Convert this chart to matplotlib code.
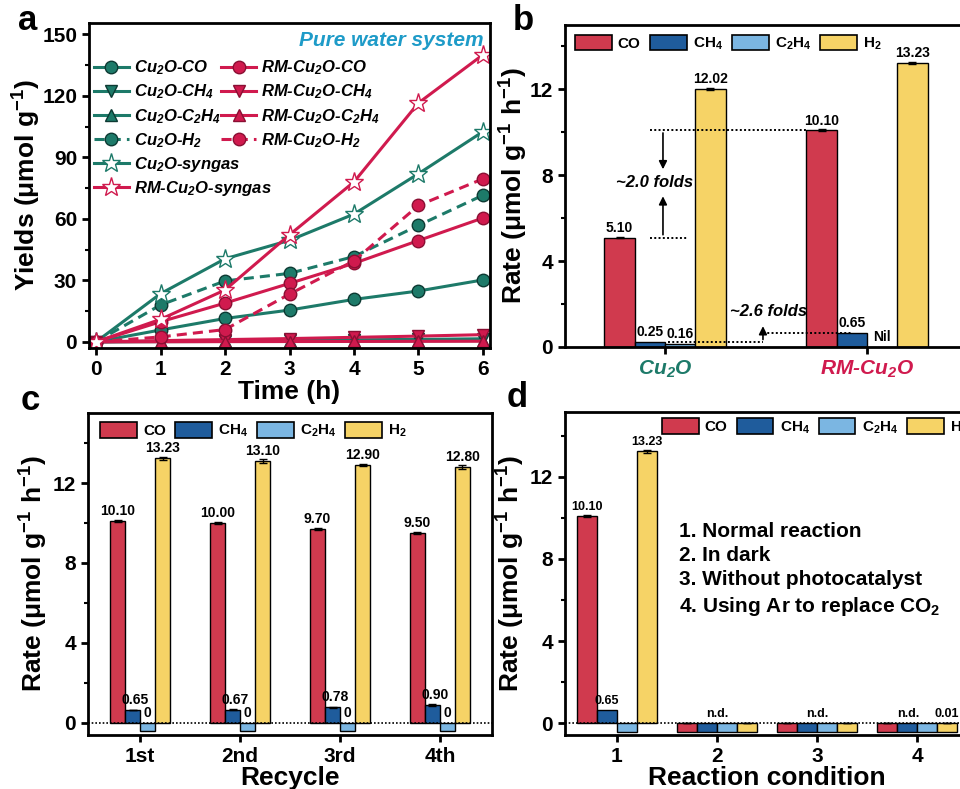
import matplotlib

matplotlib.use("Agg")

import matplotlib.pyplot as plt
import numpy as np
from matplotlib.patches import Patch
from matplotlib.ticker import MultipleLocator

# ---- panel a: cumulative yields (umol g-1) vs time
time_h = [0, 1, 2, 3, 4, 5, 6]
cu2o_co = [0, 5.8, 11.4, 15.5, 20.7, 24.8, 30.2]
cu2o_ch4 = [0, 0.3, 0.5, 0.8, 1.0, 1.2, 1.5]
cu2o_c2h4 = [0, 0.1, 0.2, 0.3, 0.4, 0.5, 0.6]
cu2o_h2 = [0, 18.0, 29.7, 33.4, 41.6, 56.8, 71.5]
cu2o_syngas = [0, 23.5, 40.5, 49.5, 62.3, 82.0, 102.5]
rm_co = [0, 9.8, 18.9, 28.5, 38.3, 49.4, 60.4]
rm_ch4 = [0, 0.6, 1.1, 1.6, 2.2, 2.8, 3.5]
rm_c2h4 = [0, 0.05, 0.1, 0.15, 0.2, 0.25, 0.3]
rm_h2 = [0, 2.4, 6.0, 23.3, 39.5, 66.5, 79.5]
rm_syngas = [0, 11.0, 25.3, 52.2, 78.0, 116.5, 140.0]

# ---- panel b: rates for the two catalysts
gases = ["CO", "CH$_4$", "C$_2$H$_4$", "H$_2$"]
catalysts = ["Cu$_2$O", "RM-Cu$_2$O"]
b_co = [5.10, 10.10]
b_ch4 = [0.25, 0.65]
b_c2h4 = [0.16, 0.0]
b_h2 = [12.02, 13.23]
b_co_err = [0.03, 0.05]
b_h2_err = [0.05, 0.06]

# ---- panel c: recycling test
cycles = ["1st", "2nd", "3rd", "4th"]
c_co = [10.10, 10.00, 9.70, 9.50]
c_ch4 = [0.65, 0.67, 0.78, 0.90]
c_c2h4 = [0.0, 0.0, 0.0, 0.0]
c_h2 = [13.23, 13.10, 12.90, 12.80]
c_co_err = [0.04, 0.04, 0.03, 0.05]
c_ch4_err = [0.02, 0.02, 0.02, 0.04]
c_h2_err = [0.08, 0.12, 0.04, 0.08]

# ---- panel d: control experiments
conditions = ["1", "2", "3", "4"]
d_co = [10.10, 0.0, 0.0, 0.0]
d_ch4 = [0.65, 0.0, 0.0, 0.0]
d_c2h4 = [0.0, 0.0, 0.0, 0.0]
d_h2 = [13.23, 0.0, 0.0, 0.01]
d_co_err = [0.05, 0, 0, 0]
d_h2_err = [0.06, 0, 0, 0]
condition_notes = [
    "1. Normal reaction",
    "2. In dark",
    "3. Without photocatalyst",
    "4. Using Ar to replace CO$_2$",
]

TEAL = "#1D7A69"
CRIMSON = "#D01A4E"
BAR_COLORS = ["#D03A4E", "#1F5C9C", "#7BB6E2", "#F6D366"]
PLACEHOLDER = 0.42

W, H = 960, 789

plt.rcParams.update(
    {
        "font.family": ["Liberation Sans", "DejaVu Sans"],
        "font.weight": "bold",
        "axes.labelweight": "bold",
        "mathtext.default": "regular",
        "axes.linewidth": 2.0,
        "xtick.major.width": 2.0,
        "ytick.major.width": 2.0,
        "xtick.minor.width": 1.5,
        "ytick.minor.width": 1.5,
        "xtick.major.size": 5,
        "ytick.major.size": 5,
        "ytick.minor.size": 3,
        "xtick.labelsize": 15,
        "ytick.labelsize": 15,
        "axes.labelsize": 19,
    }
)


def px_rect(left, top, right, bottom):
    return [left / W, 1 - bottom / H, (right - left) / W, (bottom - top) / H]


fig = plt.figure(figsize=(W / 100, H / 100), dpi=100)

# ================= a =================
ax_a = fig.add_axes(px_rect(89, 23, 490, 348))
dash = (0, (3.3, 2.0))
series = [
    (cu2o_co, TEAL, "o", "-", "Cu$_2$O-CO"),
    (cu2o_ch4, TEAL, "v", "-", "Cu$_2$O-CH$_4$"),
    (cu2o_c2h4, TEAL, "^", "-", "Cu$_2$O-C$_2$H$_4$"),
    (cu2o_h2, TEAL, "o", dash, "Cu$_2$O-H$_2$"),
    (cu2o_syngas, TEAL, "*", "-", "Cu$_2$O-syngas"),
    (rm_co, CRIMSON, "o", "-", "RM-Cu$_2$O-CO"),
    (rm_ch4, CRIMSON, "v", "-", "RM-Cu$_2$O-CH$_4$"),
    (rm_c2h4, CRIMSON, "^", "-", "RM-Cu$_2$O-C$_2$H$_4$"),
    (rm_h2, CRIMSON, "o", dash, "RM-Cu$_2$O-H$_2$"),
    (rm_syngas, CRIMSON, "*", "-", "RM-Cu$_2$O-syngas"),
]
handles = {}
for values, color, marker, style, label in series:
    if marker == "*":
        face, edge, ms = "white", color, 14
    else:
        face, edge, ms = color, "#0d3a33" if color == TEAL else "#8a0f33", 9
    (ln,) = ax_a.plot(
        time_h, values, color=color, marker=marker, linestyle=style,
        markerfacecolor=face, markeredgecolor=edge, lw=2.2,
        markersize=ms, markeredgewidth=1.0, label=label,
    )
    handles[label] = ln

ax_a.set_xlim(-0.11, 6.11)
ax_a.set_ylim(-3, 155.5)
ax_a.xaxis.set_major_locator(MultipleLocator(1))
ax_a.yaxis.set_major_locator(MultipleLocator(30))
ax_a.yaxis.set_minor_locator(MultipleLocator(15))
ax_a.set_xlabel("Time (h)")
ax_a.set_ylabel("Yields (μmol g$^{-1}$)")
ax_a.yaxis.set_label_coords(-0.115, 0.5)
ax_a.xaxis.set_label_coords(0.5, -0.097)

leg_prop = dict(size=12, style="italic", weight="bold")
col1 = [s[4] for s in series[:5]] + [series[9][4]]
col2 = [s[4] for s in series[5:9]]
leg_kw = dict(loc="upper left", frameon=False, prop=leg_prop, handlelength=2.1,
              handletextpad=0.3, labelspacing=0.32, borderpad=0, borderaxespad=0)
leg1 = ax_a.legend([handles[k] for k in col1], col1, bbox_to_anchor=(0.012, 0.89), **leg_kw)
ax_a.add_artist(leg1)
ax_a.legend([handles[k] for k in col2], col2, bbox_to_anchor=(0.33, 0.89), **leg_kw)
ax_a.text(0.985, 0.945, "Pure water system", transform=ax_a.transAxes,
          ha="right", va="center", fontsize=15, style="italic",
          fontweight="bold", color="#1E9BC8")


def bar_legend(ax, anchor, loc="upper left"):
    patches = [Patch(facecolor=c, edgecolor="black", linewidth=1.2) for c in BAR_COLORS]
    ax.legend(
        patches, gases, loc=loc, bbox_to_anchor=anchor, ncol=4,
        frameon=False, fontsize=11, handlelength=2.4, handleheight=1.2,
        handletextpad=0.4, columnspacing=0.6, borderpad=0, borderaxespad=0,
    )


# ================= b =================
ax_b = fig.add_axes(px_rect(565, 25, 968, 347))
bw = 0.15
xb = np.arange(len(catalysts))
b_sets = [b_co, b_ch4, b_c2h4, b_h2]
b_errs = [b_co_err, None, None, b_h2_err]
for k, (vals, err) in enumerate(zip(b_sets, b_errs)):
    xs = xb + (k - 1.5) * bw
    for x, v in zip(xs, vals):
        if v > 0:
            ax_b.bar(x, v, bw, color=BAR_COLORS[k], edgecolor="black", linewidth=1.0, zorder=2)
    if err is not None:
        ax_b.errorbar(xs, vals, yerr=err, fmt="none", ecolor="black",
                      elinewidth=1.0, capsize=3, capthick=1.0, zorder=3)
    for x, v in zip(xs, vals):
        ax_b.text(x, v + 0.12, f"{v:.2f}" if v > 0 else "Nil", ha="center",
                  va="bottom", fontsize=10, fontweight="bold")

ax_b.set_xlim(-0.495, 1.5)
ax_b.set_ylim(0, 15)
ax_b.set_xticks(xb)
ax_b.set_xticklabels(catalysts, fontsize=15, style="italic")
for lbl, col in zip(ax_b.get_xticklabels(), [TEAL, CRIMSON]):
    lbl.set_color(col)
ax_b.yaxis.set_major_locator(MultipleLocator(4))
ax_b.yaxis.set_minor_locator(MultipleLocator(2))
ax_b.set_ylabel("Rate (μmol g$^{-1}$ h$^{-1}$)")
ax_b.yaxis.set_label_coords(-0.088, 0.5)
bar_legend(ax_b, (0.025, 0.97))

# fold annotations
dot_kw = dict(color="black", lw=1.4, linestyle=(0, (1, 1.2)), zorder=4)
arrow_kw = dict(arrowstyle="-|>", color="black", lw=1.2, mutation_scale=12)
co_right = xb[0] - 0.5 * bw
ax_b.plot([co_right, xb[1] - 2 * bw], [b_co[1], b_co[1]], **dot_kw)
ax_b.plot([co_right, xb[0] + 0.11], [b_co[0], b_co[0]], **dot_kw)
arrow_x = xb[0] - 0.01
mid = 0.5 * (b_co[0] + b_co[1])
ax_b.annotate("", xy=(arrow_x, mid + 0.55), xytext=(arrow_x, b_co[1]), arrowprops=arrow_kw)
ax_b.annotate("", xy=(arrow_x, mid - 0.45), xytext=(arrow_x, b_co[0]), arrowprops=arrow_kw)
ax_b.text(arrow_x - 0.04, mid + 0.05, "~2.0 folds", ha="center", va="center",
          fontsize=12, style="italic", fontweight="bold")
up_x = xb[0] + 0.485
ax_b.plot([xb[0] + 0.015, up_x], [0.22, 0.22], **dot_kw)
ax_b.plot([up_x, xb[1] - 0.5 * bw - 0.005], [b_ch4[1], b_ch4[1]], **dot_kw)
ax_b.annotate("", xy=(up_x, 1.1), xytext=(up_x, 0.22), arrowprops=arrow_kw)
ax_b.text(up_x + 0.03, 1.65, "~2.6 folds", ha="center", va="center",
          fontsize=12, style="italic", fontweight="bold")


def grouped_bars(ax, pos, sets, errs, width):
    for k, (vals, err) in enumerate(zip(sets, errs)):
        xs = pos + (k - 1.5) * width
        for x, v in zip(xs, vals):
            h = v if v >= 0.05 else -PLACEHOLDER
            ax.bar(x, h, width, color=BAR_COLORS[k], edgecolor="black",
                   linewidth=1.0, zorder=2)
        if err is not None:
            ax.errorbar(xs, vals, yerr=err, fmt="none", ecolor="black",
                        elinewidth=1.0, capsize=3, capthick=1.0, zorder=3)
    ax.axhline(0, color="black", lw=1.2, linestyle=(0, (1, 1.2)), zorder=4)


# ================= c =================
ax_c = fig.add_axes(px_rect(88, 413, 492, 735))
xc = np.arange(len(cycles))
c_sets = [c_co, c_ch4, c_c2h4, c_h2]
grouped_bars(ax_c, xc, c_sets, [c_co_err, c_ch4_err, None, c_h2_err], 0.15)
for k, vals in enumerate(c_sets):
    for x, v in zip(xc + (k - 1.5) * 0.15, vals):
        txt = f"{v:.2f}" if v > 0 else "0"
        ax_c.text(x + (0.03 if k == 1 else 0), v + 0.15, txt, ha="center",
                  va="bottom", fontsize=10, fontweight="bold", zorder=5)
ax_c.set_xlim(-0.52, 3.52)
ax_c.set_ylim(-0.6, 15.5)
ax_c.set_xticks(xc)
ax_c.set_xticklabels(cycles)
ax_c.yaxis.set_major_locator(MultipleLocator(4))
ax_c.yaxis.set_minor_locator(MultipleLocator(2))
ax_c.set_xlabel("Recycle")
ax_c.set_ylabel("Rate (μmol g$^{-1}$ h$^{-1}$)")
ax_c.yaxis.set_label_coords(-0.093, 0.5)
ax_c.xaxis.set_label_coords(0.5, -0.095)
bar_legend(ax_c, (0.03, 0.972))

# ================= d =================
ax_d = fig.add_axes(px_rect(565, 412, 969, 735))
xd = np.arange(1, len(conditions) + 1)
d_sets = [d_co, d_ch4, d_c2h4, d_h2]
grouped_bars(ax_d, xd, d_sets, [d_co_err, None, None, d_h2_err], 0.2)
for i, x0 in enumerate(xd):
    group = [s[i] for s in d_sets]
    if max(group) >= 0.05:
        for k, v in enumerate(group):
            if v >= 0.05:
                ax_d.text(x0 + (k - 1.5) * 0.2, v + 0.15, f"{v:.2f}", ha="center",
                          va="bottom", fontsize=9, fontweight="bold", zorder=5)
    else:
        shift = -0.09 if group[3] > 0 else 0
        ax_d.text(x0 + shift, 0.15, "n.d.", ha="center", va="bottom",
                  fontsize=9, fontweight="bold")
        if group[3] > 0:
            ax_d.text(x0 + 1.5 * 0.2, 0.15, f"{group[3]:.2f}", ha="center",
                      va="bottom", fontsize=9, fontweight="bold")
ax_d.set_xlim(0.48, 4.52)
ax_d.set_ylim(-0.57, 15.15)
ax_d.set_xticks(xd)
ax_d.set_xticklabels(conditions)
ax_d.yaxis.set_major_locator(MultipleLocator(4))
ax_d.yaxis.set_minor_locator(MultipleLocator(2))
ax_d.set_xlabel("Reaction condition")
ax_d.set_ylabel("Rate (μmol g$^{-1}$ h$^{-1}$)")
ax_d.yaxis.set_label_coords(-0.093, 0.5)
ax_d.xaxis.set_label_coords(0.5, -0.095)
bar_legend(ax_d, (0.24, 0.98))
ax_d.text(0.282, 0.658, "\n".join(condition_notes), transform=ax_d.transAxes,
          ha="left", va="top", fontsize=15, fontweight="bold", linespacing=1.32)

for letter, (x, y) in zip("abcd", [(28, 20), (523, 20), (30, 400), (517, 398)]):
    fig.text(x / W, 1 - y / H, letter, fontsize=25, fontweight="bold",
             ha="center", va="center")

fig.savefig("out.png", dpi=100, facecolor="white")
